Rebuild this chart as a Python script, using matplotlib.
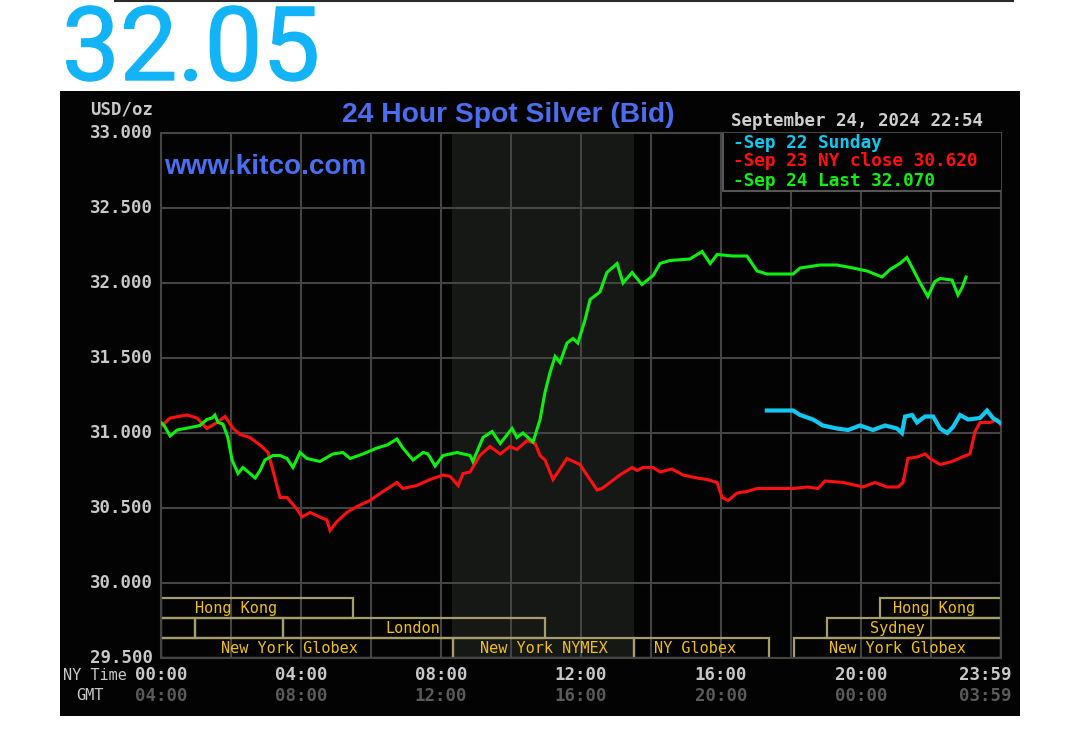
import matplotlib
matplotlib.use("Agg")
import matplotlib.pyplot as plt
import matplotlib.patheffects as pe
from matplotlib.patches import Rectangle
from matplotlib.lines import Line2D

# ---------------- data ----------------
green_t = [0.00, 0.09, 0.26, 0.46, 0.69, 0.91, 1.11, 1.31, 1.46, 1.54, 1.63, 1.77, 1.91, 2.03, 2.20, 2.34,
           2.54, 2.69, 2.83, 2.97, 3.20, 3.40, 3.60, 3.77, 3.97, 4.17, 4.54, 4.91, 5.20, 5.40, 5.77, 6.17,
           6.46, 6.74, 6.91, 7.20, 7.49, 7.63, 7.83, 8.06, 8.46, 8.83, 8.91, 9.20, 9.46, 9.69, 10.03, 10.17,
           10.34, 10.63, 10.83, 10.97, 11.11, 11.26, 11.40, 11.60, 11.77, 11.91, 12.11, 12.26, 12.54, 12.74,
           13.03, 13.20, 13.46, 13.74, 14.06, 14.26, 14.54, 15.11, 15.46, 15.69, 15.89, 16.34, 16.74, 17.03,
           17.31, 18.06, 18.26, 18.83, 19.31, 19.77, 20.17, 20.60, 20.83, 21.11, 21.31, 21.49, 21.69, 21.91,
           22.11, 22.26, 22.60, 22.77, 22.89, 23.00]
green_v = [31.07, 31.05, 30.98, 31.02, 31.03, 31.04, 31.05, 31.09, 31.10, 31.12, 31.07, 31.06, 30.97, 30.82,
           30.73, 30.77, 30.73, 30.70, 30.75, 30.82, 30.85, 30.85, 30.83, 30.77, 30.87, 30.83, 30.81, 30.86,
           30.87, 30.83, 30.86, 30.90, 30.92, 30.96, 30.90, 30.82, 30.87, 30.86, 30.78, 30.85, 30.87, 30.85,
           30.81, 30.97, 31.01, 30.93, 31.03, 30.97, 31.00, 30.94, 31.09, 31.27, 31.40, 31.51, 31.47, 31.60,
           31.63, 31.60, 31.75, 31.89, 31.94, 32.07, 32.13, 32.00, 32.07, 31.99, 32.05, 32.13, 32.15, 32.16,
           32.21, 32.13, 32.19, 32.18, 32.18, 32.08, 32.06, 32.06, 32.10, 32.12, 32.12, 32.10, 32.08, 32.04,
           32.09, 32.13, 32.17, 32.09, 32.00, 31.91, 32.01, 32.03, 32.02, 31.92, 31.97, 32.04]

red_t = [0.03, 0.26, 0.74, 1.03, 1.31, 1.60, 1.83, 2.06, 2.26, 2.54, 2.83, 3.06, 3.20, 3.40, 3.60, 3.89,
         4.03, 4.26, 4.54, 4.74, 4.83, 5.03, 5.31, 5.60, 5.97, 6.34, 6.74, 6.91, 7.31, 7.69, 8.06, 8.26,
         8.49, 8.63, 8.83, 9.11, 9.40, 9.69, 9.97, 10.17, 10.46, 10.69, 10.83, 10.97, 11.20, 11.60, 11.97,
         12.17, 12.46, 12.60, 12.83, 13.11, 13.46, 13.60, 13.77, 14.06, 14.26, 14.60, 14.91, 15.31, 15.60,
         15.89, 16.03, 16.20, 16.46, 16.74, 17.03, 18.06, 18.46, 18.77, 18.97, 19.49, 20.06, 20.40, 20.74,
         21.06, 21.20, 21.34, 21.60, 21.83, 21.97, 22.26, 22.60, 22.89, 23.11, 23.26, 23.40, 23.69, 23.89, 24.00]
red_v = [31.05, 31.10, 31.12, 31.10, 31.03, 31.07, 31.11, 31.03, 30.99, 30.97, 30.92, 30.87, 30.75, 30.57,
         30.57, 30.49, 30.44, 30.47, 30.44, 30.42, 30.35, 30.41, 30.47, 30.51, 30.55, 30.61, 30.67, 30.63,
         30.65, 30.69, 30.72, 30.71, 30.65, 30.73, 30.74, 30.85, 30.91, 30.86, 30.91, 30.89, 30.95, 30.93,
         30.85, 30.82, 30.69, 30.83, 30.79, 30.72, 30.62, 30.63, 30.67, 30.72, 30.77, 30.75, 30.77, 30.77,
         30.74, 30.76, 30.72, 30.70, 30.69, 30.67, 30.57, 30.55, 30.60, 30.61, 30.63, 30.63, 30.64, 30.63,
         30.68, 30.67, 30.64, 30.67, 30.64, 30.64, 30.67, 30.83, 30.84, 30.86, 30.83, 30.79, 30.81, 30.84,
         30.86, 31.01, 31.07, 31.07, 31.09, 31.05]

cyan_t = [17.31, 18.06, 18.26, 18.63, 18.91, 19.31, 19.63, 19.97, 20.34, 20.69, 21.03, 21.17, 21.26, 21.46,
          21.60, 21.83, 22.06, 22.26, 22.46, 22.63, 22.83, 23.06, 23.40, 23.60, 23.77, 23.97]
cyan_v = [31.15, 31.15, 31.12, 31.09, 31.05, 31.03, 31.02, 31.05, 31.02, 31.05, 31.03, 31.00, 31.11, 31.12,
          31.07, 31.11, 31.11, 31.03, 31.00, 31.04, 31.12, 31.09, 31.10, 31.15, 31.10, 31.07]

y_ticks = [29.5, 30.0, 30.5, 31.0, 31.5, 32.0, 32.5, 33.0]
y_labels = ["29.500", "30.000", "30.500", "31.000", "31.500", "32.000", "32.500", "33.000"]
x_ticks = [0, 4, 8, 12, 16, 20, 24]
ny_labels = ["00:00", "04:00", "08:00", "12:00", "16:00", "20:00", "23:59"]
gmt_labels = ["04:00", "08:00", "12:00", "16:00", "20:00", "00:00", "03:59"]

legend_texts = ["-Sep 22 Sunday", "-Sep 23 NY close 30.620", "-Sep 24 Last 32.070"]

session_names = ["Hong Kong", "Hong Kong", "", "", "London", "Sydney",
                 "New York Globex", "New York NYMEX", "NY Globex", "New York Globex"]
session_start = [0.0, 20.54, 0.0, 0.97, 3.49, 19.03, 0.0, 8.33, 13.5, 18.09]
session_end = [5.49, 24.0, 0.97, 3.49, 10.97, 24.0, 8.33, 13.5, 17.37, 24.0]
session_row = [2, 2, 1, 1, 1, 1, 0, 0, 0, 0]
session_label_x = [2.14, 22.1, 0, 0, 7.2, 21.03, 3.66, 10.94, 15.26, 21.03]

nymex_start, nymex_end = 8.31, 13.5

# ---------------- figure ----------------
W, H = 1080, 737
fig = plt.figure(figsize=(W / 100, H / 100), dpi=100, facecolor="white")

def fx(px):
    return px / W

def fy(py):
    return 1 - py / H

mono = "DejaVu Sans Mono"

# black panel
fig.patches.append(Rectangle((fx(60), fy(716)), fx(1020) - fx(60), fy(91) - fy(716),
                             transform=fig.transFigure, facecolor="#030303", edgecolor="none", zorder=-5))
# top thin line
fig.add_artist(Line2D([fx(115), fx(1013)], [fy(1), fy(1)], color="#2a2a2a", lw=1.5, transform=fig.transFigure))

# big price
fig.text(fx(62), fy(80), "32.05", family="Roboto", weight="normal", fontsize=74, color="#12b4f7",
         ha="left", va="baseline",
         path_effects=[pe.withStroke(linewidth=1.0, foreground="#12b4f7")])

ax = fig.add_axes([fx(161), fy(658), fx(1001) - fx(161), fy(133) - fy(658)])
ax.set_facecolor("#030303")
ax.set_xlim(0, 24)
ax.set_ylim(29.5, 33.0)

ax.axvspan(nymex_start, nymex_end, color="#161816", zorder=0.5, lw=0)

grid_c = "#444444"
for v in y_ticks:
    ax.axhline(v, color=grid_c, lw=1.5, zorder=1)
for h in range(0, 25, 2):
    ax.axvline(h, color=grid_c, lw=1.5, zorder=1)
for s in ax.spines.values():
    s.set_color(grid_c)
    s.set_linewidth(1.5)
ax.set_xticks([])
ax.set_yticks([])

# sessions
row_h = 0.1333
for name, s0, s1, r, lx in zip(session_names, session_start, session_end, session_row, session_label_x):
    y0 = 29.5 + r * row_h
    ax.add_patch(Rectangle((s0, y0), s1 - s0, row_h, facecolor="none", edgecolor="#a59d6c", lw=1.6, zorder=2))
    if name:
        ax.text(lx, y0 + row_h / 2, name, family=mono, fontsize=11, color="#f0c010",
                ha="center", va="center", zorder=3)

# series
ax.plot(red_t, red_v, color="#ff1010", lw=2.2, zorder=4, solid_joinstyle="miter")
ax.plot(green_t, green_v, color="#10f010", lw=2.2, zorder=5, solid_joinstyle="miter")
ax.plot(cyan_t, cyan_v, color="#10c8f0", lw=3.0, zorder=4, solid_joinstyle="miter")

# legend box
ax.add_patch(Rectangle((fx(723), fy(191)), fx(1004) - fx(723), fy(132) - fy(191), transform=fig.transFigure,
                       facecolor="#030303", edgecolor="#555555", lw=1.5, zorder=6))
leg_colors = ["#10c8f0", "#ff1010", "#10f010"]
for txt, c, py in zip(legend_texts, leg_colors, [143, 161, 181]):
    fig.text(fx(733), fy(py), txt, family=mono, weight="bold", fontsize=12.8, color=c,
             ha="left", va="center", zorder=7)

fig.text(fx(731), fy(121), "September 24, 2024 22:54", family=mono, weight="bold", fontsize=12.6,
         color="#cfcfcf", ha="left", va="center")

# title & site
fig.text(fx(508), fy(115), "24 Hour Spot Silver (Bid)", family="Liberation Sans", weight="bold",
         fontsize=20.3, color="#4b6ef0", ha="center", va="center")
fig.text(fx(164), fy(167), "www.kitco.com", family="Liberation Sans", weight="bold",
         fontsize=20.1, color="#4b6ef0", ha="left", va="center")

# y labels
tick_c = "#c8c8c8"
for v, lab in zip(y_ticks, y_labels):
    py = 658 - (v - 29.5) * 150
    fig.text(fx(153), fy(py), lab, family=mono, weight="bold", fontsize=12.5, color=tick_c,
             ha="right", va="center")
fig.text(fx(153), fy(110), "USD/oz", family=mono, weight="bold", fontsize=12.5, color=tick_c,
         ha="right", va="center")

# x labels
for h, a, b in zip(x_ticks, ny_labels, gmt_labels):
    px = 161 + h * 35
    if h == 24:
        px = 985
    fig.text(fx(px), fy(675), a, family=mono, weight="bold", fontsize=12.5, color=tick_c,
             ha="center", va="center")
    fig.text(fx(px), fy(696), b, family=mono, weight="bold", fontsize=12.5, color="#5a5a5a",
             ha="center", va="center")
fig.text(fx(63), fy(676), "NY Time", family=mono, fontsize=11, color=tick_c, ha="left", va="center")
fig.text(fx(90), fy(695), "GMT", family=mono, fontsize=11, color=tick_c, ha="center", va="center")

fig.savefig("out.png", dpi=100, facecolor="white")
